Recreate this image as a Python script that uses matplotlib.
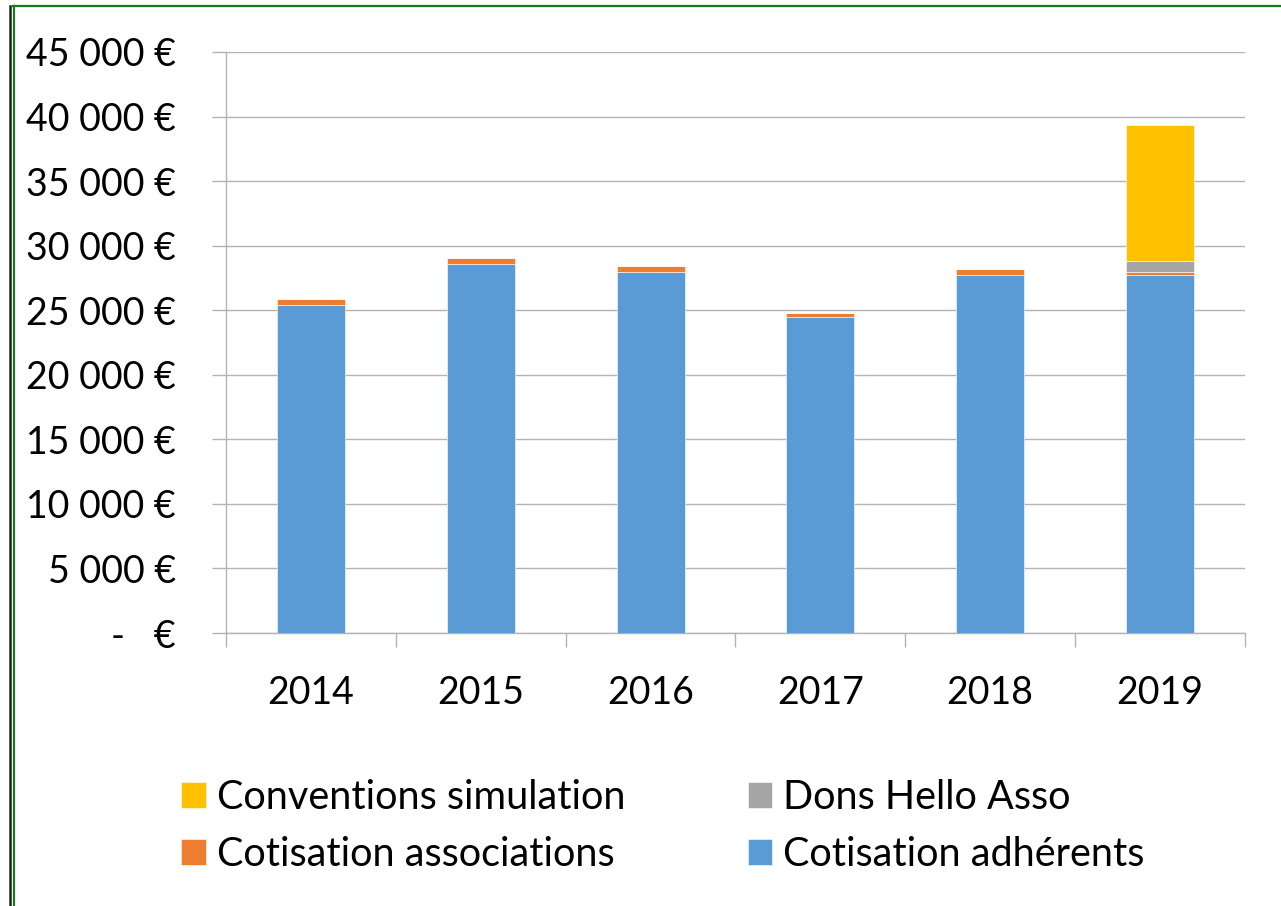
import matplotlib
matplotlib.use("Agg")
import matplotlib.pyplot as plt
from matplotlib.lines import Line2D
from matplotlib.ticker import FixedLocator
import numpy as np

plt.rcParams['font.family'] = ['Lato', 'DejaVu Sans']

years = ["2014", "2015", "2016", "2017", "2018", "2019"]
cotisation_adherents = [25400, 28580, 27960, 24500, 27730, 27730]
cotisation_associations = [460, 460, 460, 310, 460, 250]
dons_hello_asso = [0, 0, 0, 0, 0, 830]
conventions_simulation = [0, 0, 0, 0, 0, 10530]

y_ticks = [0, 5000, 10000, 15000, 20000, 25000, 30000, 35000, 40000, 45000]
y_labels = ["-   €", "5 000 €", "10 000 €", "15 000 €", "20 000 €", "25 000 €",
            "30 000 €", "35 000 €", "40 000 €", "45 000 €"]

c_blue = "#5B9BD5"
c_orange = "#ED7D31"
c_gray = "#A5A5A5"
c_yellow = "#FFC000"

W, H = 1281, 906
fig = plt.figure(figsize=(W / 100, H / 100), dpi=100)
ax = fig.add_axes([226 / W, 1 - 633 / H, (1245 - 226) / W, (633 - 52) / H])

x = np.arange(len(years))
bw = 0.4
edge = dict(edgecolor="white", linewidth=0.4)
b1 = ax.bar(x, cotisation_adherents, bw, color=c_blue, zorder=3, **edge)
base = np.array(cotisation_adherents, dtype=float)
b2 = ax.bar(x, cotisation_associations, bw, bottom=base, color=c_orange, zorder=3, **edge)
base += cotisation_associations
b3 = ax.bar(x, dons_hello_asso, bw, bottom=base, color=c_gray, zorder=3, **edge)
base += dons_hello_asso
b4 = ax.bar(x, conventions_simulation, bw, bottom=base, color=c_yellow, zorder=3, **edge)

ax.set_xlim(-0.5, len(years) - 0.5)
ax.set_ylim(0, 45000)

# y axis: gridlines with outward ticks
ax.yaxis.set_major_locator(FixedLocator(y_ticks))
ax.set_yticklabels(y_labels, fontsize=27)
ax.tick_params(axis="y", length=10, width=1.0, color="#B3B3B3", pad=26,
               labelcolor="black")
ax.grid(axis="y", color="#B3B3B3", linewidth=1.0, zorder=0)

# x axis: category labels centred, ticks at boundaries
ax.set_xticks(x)
ax.set_xticklabels(years, fontsize=27)
ax.tick_params(axis="x", which="major", length=0, pad=30)
ax.set_xticks(np.arange(len(years) + 1) - 0.5, minor=True)
ax.tick_params(axis="x", which="minor", length=10, width=1.0, color="#B3B3B3")

for side in ["top", "right"]:
    ax.spines[side].set_visible(False)
ax.spines["left"].set_color("#B3B3B3")
ax.spines["bottom"].set_color("#B3B3B3")
ax.spines["left"].set_linewidth(1.0)
ax.spines["bottom"].set_linewidth(1.0)

leg = fig.legend([b4, b2, b3, b1],
                 ["Conventions simulation", "Cotisation associations",
                  "Dons Hello Asso", "Cotisation adhérents"],
                 ncol=2, loc="upper left", bbox_to_anchor=(181 / W, 1 - 779 / H),
                 frameon=False, fontsize=28.5, handlelength=0.62, handleheight=0.62,
                 handletextpad=0.28, columnspacing=3.1, labelspacing=0.5,
                 borderaxespad=0, borderpad=0)

# page frame lines
def px_line(x0, y0, x1, y1, color, lw):
    fig.add_artist(Line2D([x0 / W, x1 / W], [1 - y0 / H, 1 - y1 / H],
                          color=color, linewidth=lw, transform=fig.transFigure))

px_line(9.5, 6, 9.5, H, "#222222", 1.8)
px_line(14, 6, 14, H, "#1A7A1A", 1.6)
px_line(13, 6, W, 6, "#1A7A1A", 1.6)

fig.savefig("out.png", dpi=100)
